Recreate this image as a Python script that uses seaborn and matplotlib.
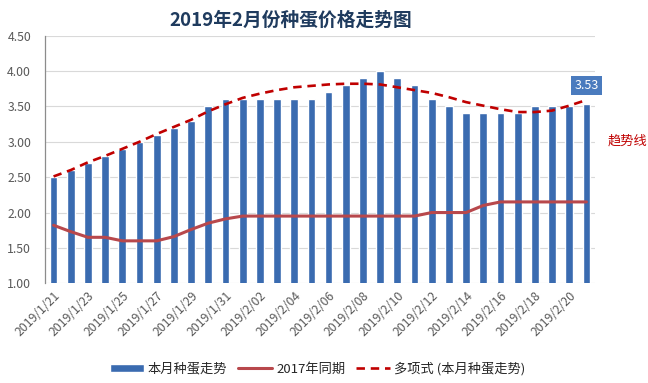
import numpy as np
import matplotlib
matplotlib.use("Agg")
import matplotlib.pyplot as plt
import seaborn as sns
import pandas as pd

# Daten
dates = ["2019/1/21", "2019/1/22", "2019/1/23", "2019/1/24", "2019/1/25", "2019/1/26",
         "2019/1/27", "2019/1/28", "2019/1/29", "2019/1/30", "2019/1/31",
         "2019/2/01", "2019/2/02", "2019/2/03", "2019/2/04", "2019/2/05", "2019/2/06",
         "2019/2/07", "2019/2/08", "2019/2/09", "2019/2/10", "2019/2/11", "2019/2/12",
         "2019/2/13", "2019/2/14", "2019/2/15", "2019/2/16", "2019/2/17", "2019/2/18",
         "2019/2/19", "2019/2/20", "2019/2/21"]
price_2019 = [2.5, 2.6, 2.7, 2.8, 2.9, 3.0, 3.1, 3.2, 3.3, 3.5, 3.6,
              3.6, 3.6, 3.6, 3.6, 3.6, 3.7, 3.8, 3.9, 4.0, 3.9, 3.8,
              3.6, 3.5, 3.4, 3.4, 3.4, 3.4, 3.5, 3.5, 3.5, 3.53]
price_2017 = [1.82, 1.73, 1.65, 1.65, 1.6, 1.6, 1.6, 1.66, 1.76, 1.85, 1.91,
              1.95, 1.95, 1.95, 1.95, 1.95, 1.95, 1.95, 1.95, 1.95, 1.95, 1.95,
              2.0, 2.0, 2.0, 2.1, 2.15, 2.15, 2.15, 2.15, 2.15, 2.15]
trend = [2.51, 2.60, 2.71, 2.80, 2.90, 3.00, 3.11, 3.21, 3.31, 3.43, 3.53,
         3.62, 3.68, 3.73, 3.77, 3.79, 3.81, 3.82, 3.82, 3.81, 3.77, 3.73,
         3.69, 3.63, 3.56, 3.51, 3.46, 3.42, 3.42, 3.44, 3.51, 3.59]

label_bar = "本月种蛋走势"
label_2017 = "2017年同期"
label_trend = "多项式 (本月种蛋走势)"

df = pd.DataFrame({"datum": dates, "preis": price_2019})
pos = np.arange(len(dates))

sns.set_style("white")
plt.rcParams['font.family'] = ['Noto Sans CJK SC', 'DejaVu Sans']

fig = plt.figure(figsize=(6.48, 3.83), dpi=100)
ax = fig.add_axes([0.0694, 0.2603, 0.8488, 0.6467])

# Balken
sns.barplot(data=df, x="datum", y="preis", color="#3A6BB0", width=0.45,
            saturation=1, ax=ax, label=label_bar, zorder=2)
if ax.get_legend() is not None:
    ax.get_legend().remove()

# Linien
ax.plot(pos, price_2017, color="#B8484C", lw=2.2, label=label_2017, zorder=3,
        solid_capstyle="round")
ax.plot(pos, trend, color="#C00000", lw=1.9, ls=(0, (3.2, 2.2)), label=label_trend, zorder=4)

ax.set_ylim(1.0, 4.5)
ax.set_xlim(-0.5, len(dates) - 0.5)
ax.set_yticks(np.arange(1.0, 4.51, 0.5))
ax.set_yticklabels([f"{v:.2f}" for v in np.arange(1.0, 4.51, 0.5)])
ax.set_xticks(pos[::2])
ax.set_xticklabels(dates[::2], rotation=45, ha="right", rotation_mode="anchor")
ax.tick_params(axis="both", length=0, labelsize=8.8, labelcolor="#595959")
ax.tick_params(axis="y", pad=10)
ax.tick_params(axis="x", pad=4)
ax.set_xlabel("")
ax.set_ylabel("")

ax.yaxis.grid(True, color="#D9D9D9", lw=0.8, zorder=0)
ax.set_axisbelow(True)
for s in ["top", "right", "bottom"]:
    ax.spines[s].set_visible(False)
ax.spines["left"].set_color("#8C8C8C")
ax.spines["left"].set_linewidth(0.9)

# Datenbeschriftung letzter Balken
ax.annotate(f"{price_2019[-1]:.2f}", xy=(pos[-1], price_2019[-1]), xytext=(0, 9),
            textcoords="offset points", ha="center", va="bottom", fontsize=9,
            color="white", bbox=dict(boxstyle="square,pad=0.25", fc="#4A7BBE", ec="none"),
            zorder=5)

fig.text(0.448, 0.948, "2019年2月份种蛋价格走势图", ha="center", va="center",
         fontsize=13.5, fontweight="bold", color="#1F3B5E")
fig.text(0.938, 0.632, "趋势线", ha="left", va="center", fontsize=9.5, color="#C00000")

handles, labels = ax.get_legend_handles_labels()
order = [labels.index(label_bar), labels.index(label_2017), labels.index(label_trend)]
fig.legend([handles[i] for i in order], [labels[i] for i in order], loc="center",
           bbox_to_anchor=(0.49, 0.037), ncol=3, frameon=False, fontsize=9.5,
           handlelength=2.6, handleheight=0.5, columnspacing=0.8, handletextpad=0.3)

fig.savefig("out.png", dpi=100)
